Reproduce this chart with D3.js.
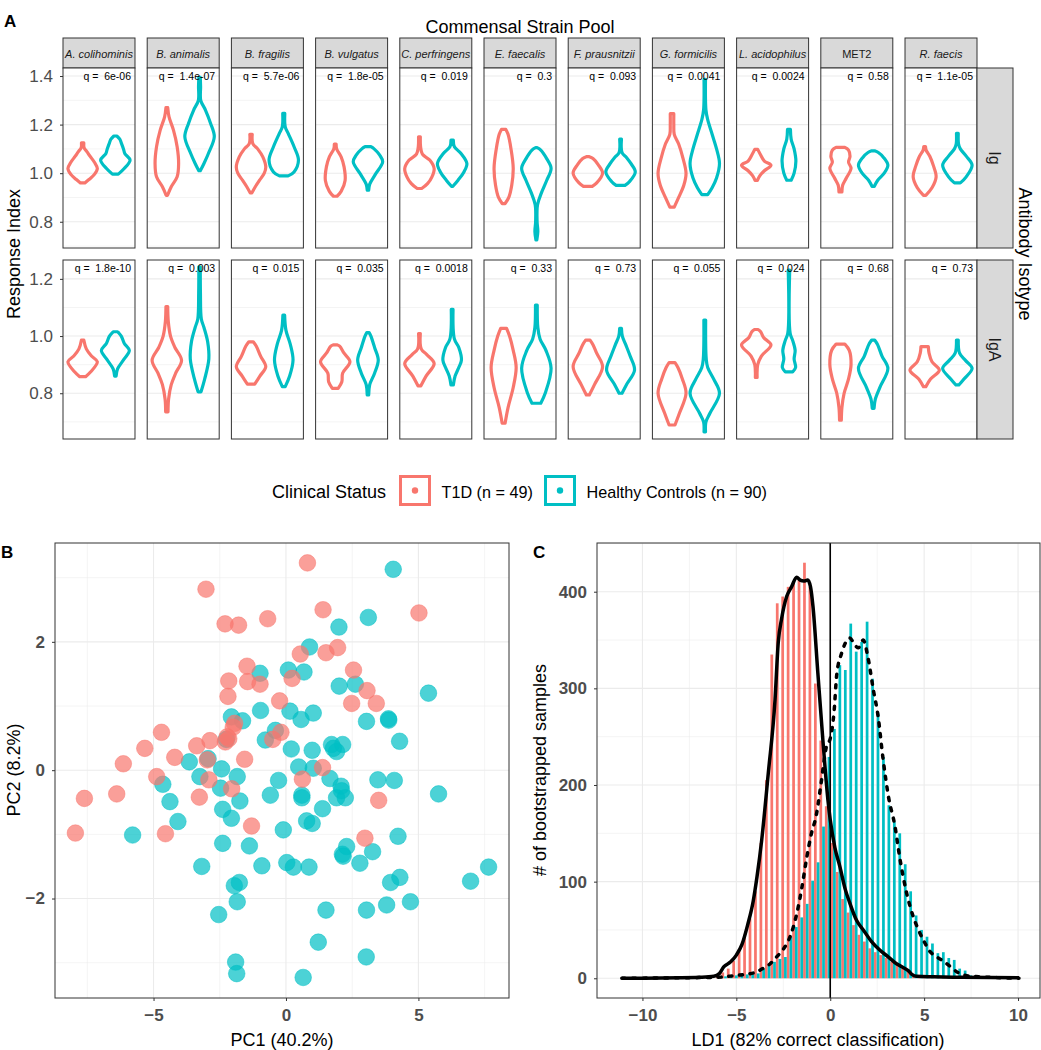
<!DOCTYPE html>
<html>
<head>
<meta charset="utf-8">
<script src="https://cdn.jsdelivr.net/npm/d3@7"></script>
<style>
  body { margin: 0; background: #fff; }
  svg { display: block; font-family: "Liberation Sans", Arial, Helvetica, sans-serif; }
</style>
</head>
<body>
<svg id="chart" width="1041" height="1050"></svg>
<script>
// ---------- data ----------
const strains = ["A. colihominis", "B. animalis", "B. fragilis", "B. vulgatus", "C. perfringens",
  "E. faecalis", "F. prausnitzii", "G. formicilis", "L. acidophilus", "MET2", "R. faecis"];
const groups = ["T1D", "HC"];
const groupLabels = ["T1D (n = 49)", "Healthy Controls (n = 90)"];
const isotypes = ["Ig", "IgA"];

const qIg = ["6e-06", "1.4e-07", "5.7e-06", "1.8e-05", "0.019", "0.3", "0.093", "0.0041", "0.0024", "0.58", "1.1e-05"];
const qIgA = ["1.8e-10", "0.003", "0.015", "0.035", "0.0018", "0.33", "0.73", "0.055", "0.024", "0.68", "0.73"];

const yDomainIg = [0.692, 1.433];
const yDomainIgA = [0.64, 1.266];
const yTicksIg = [0.8, 1.0, 1.2, 1.4];
const yTicksIgA = [0.8, 1.0, 1.2];
const yMinorIg = [0.7, 0.9, 1.1, 1.3];
const yMinorIgA = [0.7, 0.9, 1.1];

// violin outlines: [response index, relative half width]
const violinIgT1D = [
  [[0.96,0.15],[0.975,0.45],[0.995,0.8],[1.019,1.0],[1.045,0.8],[1.07,0.5],[1.088,0.3],[1.105,0.1],[1.125,0.08]],
  [[0.909,0.05],[0.944,0.3],[0.985,0.7],[1.04,0.8],[1.109,0.7],[1.177,0.45],[1.232,0.15],[1.27,0.06]],
  [[0.919,0.06],[0.945,0.3],[0.971,0.58],[1.0,0.9],[1.026,1.0],[1.067,0.8],[1.1,0.45],[1.122,0.12],[1.16,0.08]],
  [[0.905,0.12],[0.925,0.4],[0.97,0.67],[1.026,0.6],[1.067,0.4],[1.1,0.1],[1.12,0.06]],
  [[0.937,0.15],[0.957,0.55],[0.985,0.85],[1.019,1.0],[1.054,0.7],[1.078,0.2],[1.108,0.08],[1.15,0.06]],
  [[0.875,0.1],[0.9,0.35],[0.95,0.55],[1.02,0.65],[1.1,0.5],[1.16,0.3],[1.18,0.15]],
  [[0.946,0.3],[0.96,0.6],[1.0,1.0],[1.035,0.7],[1.06,0.35],[1.068,0.1]],
  [[0.86,0.15],[0.9,0.45],[0.95,0.8],[1.0,0.95],[1.06,0.75],[1.12,0.45],[1.16,0.15],[1.2,0.12],[1.245,0.12]],
  [[0.97,0.08],[0.99,0.25],[1.01,0.55],[1.033,1.0],[1.05,0.55],[1.075,0.3],[1.098,0.1]],
  [[0.923,0.1],[0.95,0.15],[0.98,0.4],[1.02,0.72],[1.045,0.55],[1.07,0.65],[1.095,0.55],[1.106,0.3]],
  [[0.909,0.08],[0.94,0.5],[0.985,0.78],[1.03,0.6],[1.07,0.35],[1.095,0.1],[1.109,0.06]]
];
const violinIgHC = [
  [[0.996,0.2],[1.019,0.6],[1.054,1.0],[1.08,0.65],[1.1,0.55],[1.125,0.4],[1.14,0.3],[1.153,0.1]],
  [[1.01,0.05],[1.04,0.3],[1.081,0.6],[1.15,1.0],[1.205,0.75],[1.26,0.4],[1.30,0.08],[1.356,0.07],[1.395,0.05]],
  [[0.989,0.3],[1.005,0.7],[1.054,1.0],[1.109,0.7],[1.164,0.3],[1.191,0.1],[1.246,0.07]],
  [[0.93,0.05],[0.955,0.12],[0.995,0.5],[1.047,1.0],[1.074,0.8],[1.101,0.4],[1.109,0.2]],
  [[0.946,0.05],[0.971,0.4],[1.005,0.8],[1.04,1.0],[1.081,0.6],[1.109,0.15],[1.136,0.08]],
  [[0.725,0.03],[0.76,0.1],[0.8,0.05],[0.87,0.08],[0.92,0.35],[0.97,0.7],[1.02,1.0],[1.06,0.7],[1.095,0.3],[1.105,0.05]],
  [[0.95,0.3],[0.965,0.6],[1.005,1.0],[1.04,0.7],[1.065,0.4],[1.085,0.1],[1.14,0.06]],
  [[0.912,0.2],[0.94,0.5],[0.98,0.8],[1.04,1.0],[1.1,0.8],[1.16,0.5],[1.22,0.2],[1.26,0.08],[1.386,0.05]],
  [[0.971,0.15],[1.0,0.35],[1.05,0.47],[1.1,0.35],[1.14,0.15],[1.18,0.1]],
  [[0.946,0.08],[0.97,0.3],[1.0,0.75],[1.033,1.0],[1.065,0.7],[1.085,0.35],[1.092,0.1]],
  [[0.96,0.2],[0.985,0.6],[1.033,1.0],[1.07,0.6],[1.1,0.2],[1.12,0.08],[1.164,0.06]]
];
const violinIgAT1D = [
  [[0.858,0.2],[0.875,0.55],[0.91,1.0],[0.93,0.6],[0.955,0.25],[0.986,0.08]],
  [[0.735,0.08],[0.78,0.12],[0.83,0.3],[0.87,0.6],[0.915,1.0],[0.96,0.55],[1.0,0.25],[1.05,0.1],[1.103,0.06]],
  [[0.832,0.25],[0.86,0.6],[0.893,1.0],[0.93,0.65],[0.965,0.35],[0.98,0.15]],
  [[0.817,0.2],[0.84,0.45],[0.87,0.5],[0.91,1.0],[0.94,0.6],[0.965,0.3],[0.969,0.15]],
  [[0.826,0.1],[0.86,0.45],[0.904,1.0],[0.935,0.5],[0.955,0.12],[1.009,0.06]],
  [[0.695,0.1],[0.75,0.3],[0.82,0.65],[0.89,0.85],[0.95,0.65],[1.0,0.4],[1.027,0.2]],
  [[0.794,0.1],[0.83,0.45],[0.893,1.0],[0.94,0.6],[0.97,0.35],[0.986,0.15]],
  [[0.689,0.2],[0.73,0.5],[0.8,0.95],[0.85,0.7],[0.89,0.4],[0.907,0.2]],
  [[0.855,0.06],[0.9,0.1],[0.93,0.35],[0.969,1.0],[0.995,0.5],[1.015,0.3],[1.023,0.12]],
  [[0.706,0.06],[0.75,0.1],[0.8,0.25],[0.85,0.55],[0.9,0.72],[0.95,0.6],[0.972,0.3]],
  [[0.823,0.08],[0.85,0.4],[0.881,1.0],[0.91,0.5],[0.94,0.3],[0.963,0.25]]
];
const violinIgAHC = [
  [[0.86,0.05],[0.885,0.15],[0.92,0.6],[0.95,0.95],[0.975,0.6],[1.0,0.4],[1.015,0.15]],
  [[0.805,0.1],[0.85,0.35],[0.92,0.63],[0.98,0.55],[1.03,0.3],[1.06,0.12],[1.15,0.06],[1.242,0.05]],
  [[0.823,0.1],[0.86,0.4],[0.916,0.63],[0.97,0.45],[1.02,0.15],[1.073,0.06]],
  [[0.794,0.05],[0.83,0.12],[0.87,0.45],[0.916,0.7],[0.96,0.45],[1.0,0.2],[1.012,0.08]],
  [[0.829,0.08],[0.86,0.2],[0.89,0.45],[0.916,0.63],[0.96,0.45],[0.99,0.15],[1.093,0.06]],
  [[0.765,0.3],[0.8,0.6],[0.887,1.0],[0.95,0.65],[0.99,0.25],[1.03,0.1],[1.108,0.06]],
  [[0.8,0.1],[0.83,0.4],[0.881,0.95],[0.93,0.65],[0.97,0.35],[1.0,0.12],[1.027,0.06]],
  [[0.665,0.05],[0.7,0.08],[0.73,0.35],[0.8,1.0],[0.85,0.6],[0.89,0.2],[0.92,0.1],[1.056,0.06]],
  [[0.875,0.25],[0.89,0.45],[0.92,0.35],[0.95,0.42],[0.985,0.25],[1.01,0.08],[1.231,0.05]],
  [[0.747,0.06],[0.78,0.15],[0.82,0.45],[0.887,1.0],[0.93,0.6],[0.97,0.3],[0.986,0.1]],
  [[0.829,0.1],[0.85,0.45],[0.887,1.0],[0.915,0.55],[0.94,0.15],[0.986,0.06]]
];

// PCA scores [PC1, PC2]
const pcaT1D = [[0.81,3.23],[-3.02,2.82],[1.40,2.50],[5.02,2.45],[-2.30,2.28],[-1.79,2.26],[-0.69,2.36],[1.51,1.83],
  [1.95,1.91],[0.54,1.81],[-1.47,1.62],[-2.16,1.39],[-1.45,1.38],[-0.98,1.34],[0.23,1.43],[2.55,1.56],[-2.19,1.15],
  [-0.24,1.08],[3.06,1.24],[2.48,1.04],[3.41,1.04],[-1.94,0.73],[-4.70,0.59],[-5.33,0.34],[-6.14,0.10],[-3.37,0.38],
  [-2.87,0.46],[-2.29,0.44],[-2.16,0.49],[-1.99,0.67],[-0.19,0.59],[-0.50,0.48],[-4.20,0.20],[-2.97,0.16],[-1.56,0.17],
  [-4.88,-0.10],[-2.91,-0.15],[-2.05,-0.29],[-3.27,-0.42],[-6.39,-0.37],[-7.61,-0.44],[0.62,-0.14],[1.38,0.04],
  [3.50,-0.47],[-1.30,-0.87],[-7.95,-0.98],[-4.55,-0.99],[2.98,-1.06],[-2.22,0.52]];
const pcaHC = [[4.05,3.13],[3.11,2.38],[2.00,2.23],[0.89,1.92],[5.38,1.20],[-0.98,1.51],[0.09,1.56],[0.68,1.53],
  [2.01,1.31],[2.62,1.34],[-2.06,0.83],[-1.64,0.77],[-0.96,0.93],[0.15,0.92],[0.57,0.79],[1.03,0.89],[3.04,0.76],
  [3.87,0.80],[3.88,0.78],[4.29,0.45],[-0.78,0.47],[-0.40,0.62],[0.20,0.33],[0.99,0.31],[1.72,0.40],[2.14,0.40],
  [1.91,0.29],[1.79,0.34],[-3.65,0.13],[-2.94,0.18],[-2.43,0.02],[-3.25,-0.10],[-1.84,-0.10],[-4.65,-0.22],
  [-2.47,-0.28],[-4.38,-0.49],[-1.74,-0.48],[0.48,0.05],[1.03,0.03],[-0.28,-0.16],[0.60,-0.39],[0.60,-0.43],
  [-0.59,-0.39],[1.66,-0.13],[2.08,-0.25],[2.10,-0.32],[1.91,-0.43],[2.24,-0.43],[3.47,-0.15],[4.09,-0.16],
  [5.76,-0.37],[-2.39,-0.61],[-2.06,-0.75],[1.38,-0.60],[-4.08,-0.80],[0.78,-0.79],[0.99,-0.83],[-0.10,-0.93],
  [-5.79,-1.01],[4.23,-1.03],[2.29,-1.19],[3.27,-1.27],[2.16,-1.34],[2.13,-1.31],[2.79,-1.45],[-2.39,-1.14],
  [-1.38,-1.18],[-3.18,-1.50],[-0.91,-1.49],[0.03,-1.44],[0.28,-1.51],[0.87,-1.51],[-1.76,-1.75],[-1.95,-1.80],
  [-1.84,-2.05],[-2.54,-2.25],[3.95,-1.75],[4.30,-1.67],[6.97,-1.73],[7.65,-1.51],[4.70,-2.05],[3.80,-2.10],
  [3.04,-2.18],[1.51,-2.18],[1.22,-2.68],[3.03,-2.91],[-1.90,-2.99],[-1.86,-3.17],[0.65,-3.23],[-2.25,0.48]];
const xMajorB = [-5, 0, 5], xMinorB = [-7.5, -2.5, 2.5, 7.5];
const yMajorB = [-2, 0, 2], yMinorB = [-3, -1, 1, 3];

// LDA bootstrap histogram (dodged) + density outlines
const ldBinStart = -5.94, ldBinWidth = 0.29;
const ldCountT1D = [3,6,10,18,30,45,62,90,140,205,335,388,395,405,410,412,430,405,305,246,178,140,110,82,68,55,45,38,31,27,
  24,21,17,14,12,9,4,2,1,0,0,0,0,0,0,0,0,0,0];
const ldCountHC = [1,2,2,3,3,4,4,5,10,14,17,20,22,43,53,63,77,101,120,157,229,258,324,319,367,338,348,369,310,274,229,179,162,
  150,118,90,65,50,43,36,26,27,21,19,10,8,3,1,0];
const densityT1D = [[-11.1,0],[-8,0.5],[-7,1],[-6.2,2],[-5.9,5],[-5.66,12],[-5.3,17],[-5.0,24],[-4.7,35],[-4.4,55],[-4.1,80],
  [-3.9,105],[-3.65,143],[-3.3,212],[-2.94,288],[-2.77,347],[-2.59,372],[-2.32,395],[-2.06,405],[-1.79,415],[-1.6,412],
  [-1.4,411],[-1.2,412],[-1.05,405],[-0.92,385],[-0.66,316],[-0.39,246],[-0.12,184],[0,164],[0.25,135],[0.52,115],
  [0.8,92],[1.04,78],[1.4,60],[1.76,50],[2.2,38],[2.65,29],[3.1,22],[3.53,15],[3.9,11],[4.15,8],[4.35,4],[4.6,2],
  [5.5,1.5],[7,1],[10.05,0.5]];
const densityHC = [[-11.1,0],[-8,0.5],[-6,1],[-5,3],[-4.5,4],[-4,6],[-3.6,10],[-3.2,15],[-2.86,22],[-2.5,30],[-2.14,43],
  [-1.78,67],[-1.5,95],[-1.25,125],[-1.0,150],[-0.75,168],[-0.5,200],[-0.2,240],[0,248],[0.2,275],[0.35,315],[0.6,336],
  [0.9,350],[1.05,352],[1.3,345],[1.5,342],[1.76,350],[2.0,333],[2.3,298],[2.55,271],[2.8,229],[3.1,188],[3.45,157],
  [3.7,125],[4.07,88],[4.4,65],[4.7,50],[5.0,38],[5.3,28],[5.6,23],[6.0,18],[6.4,12],[6.8,6],[7.2,3],[7.6,2],[8.5,1],[10.05,0]];
const xMajorC = [-10, -5, 0, 5, 10], xMinorC = [-7.5, -2.5, 2.5, 7.5];
const yMajorC = [0, 100, 200, 300, 400], yMinorC = [50, 150, 250, 350, 450];

// ---------- setup ----------
const svg = d3.select("#chart");
const colors = d3.scaleOrdinal().domain(groups).range(["#F8766D", "#00BFC4"]);
const grey20 = "#333333";
const tickGrey = "#4D4D4D";
const fontFam = "Liberation Sans, Arial, sans-serif";

function label(x, y, txt) {
  svg.append("text").attr("x", x).attr("y", y).text(txt)
    .style("font-size", "17px").style("font-weight", "bold");
}

function gridLines(g, xs, ys, xScale, yScale, major) {
  const [x0, x1] = xScale.range();
  const [y0, y1] = yScale.range();
  g.selectAll(null).data(ys).enter().append("line")
    .attr("x1", x0).attr("x2", x1).attr("y1", d => yScale(d)).attr("y2", d => yScale(d))
    .attr("stroke", "#EBEBEB").attr("stroke-width", major ? 1.1 : 0.55);
  g.selectAll(null).data(xs).enter().append("line")
    .attr("y1", y0).attr("y2", y1).attr("x1", d => xScale(d)).attr("x2", d => xScale(d))
    .attr("stroke", "#EBEBEB").attr("stroke-width", major ? 1.1 : 0.55);
}

// ---------- Panel A ----------
label(4, 27, "A");

const facetX = d3.scaleBand().domain(strains).range([63, 977]).paddingInner(0.145);
const groupX = d3.scalePoint().domain(groups).range([0, facetX.bandwidth()]).padding(0.6);
const halfW = 0.45 * groupX.step();

svg.append("text").attr("x", 520).attr("y", 33).attr("text-anchor", "middle")
  .style("font-size", "18px").text("Commensal Strain Pool");

// strain strips
strains.forEach(s => {
  svg.append("rect").attr("x", facetX(s)).attr("y", 38).attr("width", facetX.bandwidth()).attr("height", 30)
    .attr("fill", "#D9D9D9").attr("stroke", grey20).attr("stroke-width", 1);
  svg.append("text").attr("x", facetX(s) + facetX.bandwidth() / 2).attr("y", 57.5)
    .attr("text-anchor", "middle").style("font-size", "11px").style("fill", "#1A1A1A")
    .style("font-style", s === "MET2" ? "normal" : "italic").text(s);
});

const rows = [
  { iso: "Ig", top: 68, bottom: 248, domain: yDomainIg, ticks: yTicksIg, minor: yMinorIg, q: qIg, v: [violinIgT1D, violinIgHC] },
  { iso: "IgA", top: 260, bottom: 439, domain: yDomainIgA, ticks: yTicksIgA, minor: yMinorIgA, q: qIgA, v: [violinIgAT1D, violinIgAHC] }
];

rows.forEach(row => {
  const y = d3.scaleLinear().domain(row.domain).range([row.bottom, row.top]);

  strains.forEach((s, i) => {
    const g = svg.append("g").attr("transform", `translate(${facetX(s)},0)`);
    const px = d3.scaleLinear().domain([0, 1]).range([0, facetX.bandwidth()]);
    g.append("rect").attr("x", 0).attr("y", row.top).attr("width", facetX.bandwidth())
      .attr("height", row.bottom - row.top).attr("fill", "#fff");
    gridLines(g, [], row.minor, px, y, false);
    gridLines(g, [], row.ticks, px, y, true);

    groups.forEach((grp, k) => {
      const cx = groupX(grp);
      const area = d3.area()
        .y(d => y(d[0]))
        .x0(d => cx - d[1] * halfW)
        .x1(d => cx + d[1] * halfW)
        .curve(d3.curveCatmullRom.alpha(0.5));
      g.append("path").datum(row.v[k][i]).attr("d", area)
        .attr("fill", "none").attr("stroke", colors(grp)).attr("stroke-width", 3.2)
        .attr("stroke-linejoin", "round");
    });

    g.append("text").attr("x", facetX.bandwidth() - 4).attr("y", row.top + 12)
      .attr("text-anchor", "end").style("font-size", "10.5px").style("white-space", "pre")
      .style("fill", "#000").text("q =  " + row.q[i]);

    g.append("rect").attr("x", 0).attr("y", row.top).attr("width", facetX.bandwidth())
      .attr("height", row.bottom - row.top).attr("fill", "none").attr("stroke", grey20).attr("stroke-width", 1);
  });

  // left axis on first facet
  const ax = svg.append("g").attr("transform", `translate(${facetX(strains[0])},0)`)
    .call(d3.axisLeft(y).tickValues(row.ticks).tickSize(3).tickPadding(7).tickFormat(d3.format(".1f")));
  ax.select(".domain").remove();
  ax.selectAll(".tick line").attr("stroke", grey20);
  ax.selectAll(".tick text").attr("fill", tickGrey).style("font-size", "17px").style("font-family", fontFam);

  // isotype strip
  svg.append("rect").attr("x", 977).attr("y", row.top).attr("width", 36).attr("height", row.bottom - row.top)
    .attr("fill", "#D9D9D9").attr("stroke", grey20).attr("stroke-width", 1);
  svg.append("text").attr("transform", `translate(${989},${(row.top + row.bottom) / 2}) rotate(90)`)
    .attr("text-anchor", "middle").style("font-size", "16px").style("fill", "#1A1A1A").text(row.iso);
});

svg.append("text").attr("transform", "translate(20,254) rotate(-90)").attr("text-anchor", "middle")
  .style("font-size", "18px").text("Response Index");
svg.append("text").attr("transform", "translate(1019,254) rotate(90)").attr("text-anchor", "middle")
  .style("font-size", "18px").text("Antibody Isotype");

// legend
svg.append("text").attr("x", 272).attr("y", 498).style("font-size", "18px").text("Clinical Status");
const legendX = [399, 544];
groups.forEach((grp, k) => {
  const lx = legendX[k];
  svg.append("rect").attr("x", lx + 1.5).attr("y", 476.5).attr("width", 29).attr("height", 28)
    .attr("fill", "#fff").attr("stroke", colors(grp)).attr("stroke-width", 3);
  svg.append("circle").attr("cx", lx + 16).attr("cy", 490.5).attr("r", 3.2).attr("fill", colors(grp));
  svg.append("text").attr("x", lx + 42.5).attr("y", 497.5).style("font-size", "16.2px").text(groupLabels[k]);
});

// ---------- Panel B ----------
label(1, 558, "B");
const xB = d3.scaleLinear().domain([-8.72, 8.42]).range([55, 509]);
const yB = d3.scaleLinear().domain([-3.55, 3.54]).range([998, 543]);
const gB = svg.append("g");
gridLines(gB, xMinorB, yMinorB, xB, yB, false);
gridLines(gB, xMajorB, yMajorB, xB, yB, true);

[[pcaHC, "HC"], [pcaT1D, "T1D"]].forEach(([pts, grp]) => {
  gB.selectAll(null).data(pts).enter().append("circle")
    .attr("cx", d => xB(d[0])).attr("cy", d => yB(d[1])).attr("r", 8.3)
    .attr("fill", colors(grp)).attr("fill-opacity", 0.7)
    .attr("stroke", colors(grp)).attr("stroke-opacity", 0.6).attr("stroke-width", 0.8);
});
gB.append("rect").attr("x", 55).attr("y", 543).attr("width", 454).attr("height", 455)
  .attr("fill", "none").attr("stroke", grey20).attr("stroke-width", 1);

function styleAxis(ax) {
  ax.select(".domain").remove();
  ax.selectAll(".tick line").attr("stroke", grey20);
  ax.selectAll(".tick text").attr("fill", tickGrey).style("font-size", "17px").style("font-weight", "bold")
    .style("font-family", fontFam);
}
styleAxis(svg.append("g").attr("transform", "translate(0,998)")
  .call(d3.axisBottom(xB).tickValues(xMajorB).tickSize(3).tickPadding(8)));
styleAxis(svg.append("g").attr("transform", "translate(55,0)")
  .call(d3.axisLeft(yB).tickValues(yMajorB).tickSize(3).tickPadding(7)));
svg.append("text").attr("x", 282).attr("y", 1046).attr("text-anchor", "middle").style("font-size", "18px").text("PC1 (40.2%)");
svg.append("text").attr("transform", "translate(20,770) rotate(-90)").attr("text-anchor", "middle")
  .style("font-size", "18px").text("PC2 (8.2%)");

// ---------- Panel C ----------
label(533, 558, "C");
const xC = d3.scaleLinear().domain([-12.42, 11.17]).range([597, 1040]);
const yC = d3.scaleLinear().domain([-20.4, 450.4]).range([998, 543]);
const gC = svg.append("g");
gridLines(gC, xMinorC, yMinorC, xC, yC, false);
gridLines(gC, xMajorC, yMajorC, xC, yC, true);

[[ldCountT1D, "T1D", 0], [ldCountHC, "HC", 1]].forEach(([counts, grp, side]) => {
  gC.selectAll(null).data(counts).enter().append("rect")
    .attr("x", (d, i) => xC(ldBinStart + i * ldBinWidth - ldBinWidth / 2 + side * ldBinWidth / 2))
    .attr("width", xC(ldBinWidth / 2) - xC(0))
    .attr("y", d => yC(d)).attr("height", d => yC(0) - yC(d))
    .attr("fill", colors(grp));
});

gC.append("line").attr("x1", xC(0)).attr("x2", xC(0)).attr("y1", 543).attr("y2", 998)
  .attr("stroke", "#000").attr("stroke-width", 1.6);

const densLine = d3.line().x(d => xC(d[0])).y(d => yC(d[1])).curve(d3.curveMonotoneX);
gC.append("path").datum(densityHC).attr("d", densLine).attr("fill", "none").attr("stroke", "#000")
  .attr("stroke-width", 3.5).attr("stroke-dasharray", "3.2,7.5").attr("stroke-linecap", "round");
gC.append("path").datum(densityT1D).attr("d", densLine).attr("fill", "none").attr("stroke", "#000")
  .attr("stroke-width", 3.5).attr("stroke-linejoin", "round");

gC.append("rect").attr("x", 597).attr("y", 543).attr("width", 443).attr("height", 455)
  .attr("fill", "none").attr("stroke", grey20).attr("stroke-width", 1);

styleAxis(svg.append("g").attr("transform", "translate(0,998)")
  .call(d3.axisBottom(xC).tickValues(xMajorC).tickSize(3).tickPadding(8)));
styleAxis(svg.append("g").attr("transform", "translate(597,0)")
  .call(d3.axisLeft(yC).tickValues(yMajorC).tickSize(3).tickPadding(7)));
svg.append("text").attr("x", 818).attr("y", 1046).attr("text-anchor", "middle").style("font-size", "18px")
  .text("LD1 (82% correct classification)");
svg.append("text").attr("transform", "translate(546,770) rotate(-90)").attr("text-anchor", "middle")
  .style("font-size", "18px").text("# of bootstrapped samples");
</script>
</body>
</html>
